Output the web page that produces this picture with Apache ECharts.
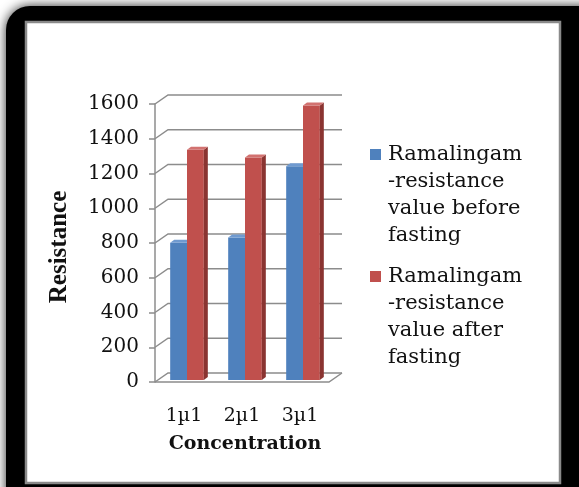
<!DOCTYPE html>
<html><head><meta charset="utf-8">
<script src="https://cdn.jsdelivr.net/npm/echarts@6/dist/echarts.min.js"></script>
<style>html,body{margin:0;padding:0;background:#fff}#c{width:579px;height:487px}</style>
</head><body><div id="c"></div>
<script>
const categories = ['1µ1', '2µ1', '3µ1'];
const beforeFasting = [790, 820, 1230];
const afterFasting = [1325, 1280, 1580];
const yTicks = [0, 200, 400, 600, 800, 1000, 1200, 1400, 1600];
const seriesNames = ['Ramalingam\n-resistance\nvalue before\nfasting', 'Ramalingam\n-resistance\nvalue after\nfasting'];

const chart = echarts.init(document.getElementById('c'), null, {renderer: 'canvas'});
const DX = 13, DY = -9;            // depth of back wall
const BX = 3, BY = -2;             // bar depth offset
const SX = 4, SY = -3;             // bar side/top thickness
const serif = 'DejaVu Serif';

function barRenderer(colors, side) {
  return function (params, api) {
    const top = api.coord([api.value(0), api.value(1)]);
    const base = api.coord([api.value(0), 0]);
    const band = api.size([1, 0])[0];
    const w = band * 0.29;
    const l = (side < 0 ? top[0] - w : top[0]) + BX;
    const r = l + w;
    const t = top[1] + BY, b = base[1] + BY;
    return {
      type: 'group',
      children: [
        {type: 'polygon', shape: {points: [[l, t], [r, t], [r, b], [l, b]]}, style: {fill: colors[0]}},
        {type: 'polygon', shape: {points: [[r, t], [r + SX, t + SY], [r + SX, b + SY], [r, b]]}, style: {fill: colors[1]}},
        {type: 'polygon', shape: {points: [[l, t], [l + SX, t + SY], [r + SX, t + SY], [r, t]]}, style: {fill: colors[2]}}
      ]
    };
  };
}

function gridRenderer(params, api) {
  const cs = params.coordSys;
  const p = api.coord([0, api.value(0)]);
  const x0 = cs.x, x1 = cs.x + cs.width;
  const y = p[1];
  const stroke = {stroke: '#8c8c8c', lineWidth: 1.5, fill: null};
  const children = [
    {type: 'polyline', shape: {points: [[x0, y], [x0 + DX, y + DY], [x1 + DX, y + DY]]}, style: stroke}
  ];
  if (api.value(0) === 0) {
    children.push({type: 'polyline', shape: {points: [[x0, y], [x1, y], [x1 + DX, y + DY]]}, style: stroke});
  }
  return {type: 'group', children: children};
}

const legendGraphics = [];
const legendColors = ['#4F81BD', '#C0504D'];
const legendTops = [141, 263];
seriesNames.forEach((n, i) => {
  legendGraphics.push({type: 'rect', left: 370, top: legendTops[i] + 8, shape: {width: 11, height: 11}, style: {fill: legendColors[i]}, z: 10});
  legendGraphics.push({type: 'text', left: 388, top: legendTops[i], style: {text: n, font: '21px "DejaVu Serif"', fill: '#111', lineHeight: 27}, z: 10});
});

chart.setOption({
  animation: false,
  backgroundColor: '#ffffff',
  graphic: [
    {type: 'rect', shape: {x: 6, y: 6, width: 620, height: 540, r: 24}, style: {fill: '#000', shadowBlur: 12, shadowColor: 'rgba(0,0,0,0.85)'}, z: -100},
    {type: 'rect', shape: {x: 26, y: 22, width: 534, height: 461}, style: {fill: '#fff', stroke: '#8a8a8a', lineWidth: 2.5}, z: -99},
    {type: 'text', x: 245, y: 444, style: {text: 'Concentration', font: 'bold 19px "DejaVu Serif"', fill: '#111', align: 'center', verticalAlign: 'middle'}, z: 10}
  ].concat(legendGraphics),
  grid: {left: 155, top: 104, width: 174, height: 278, containLabel: false},
  xAxis: {
    type: 'category', data: categories,
    axisLine: {show: false}, axisTick: {show: false}, splitLine: {show: false},
    axisLabel: {fontFamily: serif, fontSize: 19, color: '#111', margin: 25}
  },
  yAxis: {
    type: 'value', min: 0, max: 1600, interval: 200,
    name: 'Resistance', nameLocation: 'middle', nameGap: 83, nameRotate: 90,
    nameTextStyle: {fontFamily: 'Liberation Serif', fontWeight: 'bold', fontSize: 25, color: '#111', padding: [0, 8, 0, 0]},
    axisLine: {show: true, lineStyle: {color: '#8c8c8c', width: 1.5}},
    axisTick: {show: true, length: 6, lineStyle: {color: '#8c8c8c', width: 1.5}},
    splitLine: {show: false},
    axisLabel: {fontFamily: serif, fontSize: 20, color: '#111', margin: 16, formatter: v => String(v)}
  },
  series: [
    {type: 'custom', name: 'grid', renderItem: gridRenderer, data: yTicks.map(v => [v]), encode: {y: 0}, z: 1, silent: true},
    {type: 'custom', name: seriesNames[0], renderItem: barRenderer(['#4F81BD', '#3A6699', '#6F9AD0'], -1),
     data: beforeFasting.map((v, i) => [i, v]), encode: {x: 0, y: 1}, z: 3},
    {type: 'custom', name: seriesNames[1], renderItem: barRenderer(['#C0504D', '#8A3431', '#D27270'], 1),
     data: afterFasting.map((v, i) => [i, v]), encode: {x: 0, y: 1}, z: 4}
  ]
});
</script></body></html>
